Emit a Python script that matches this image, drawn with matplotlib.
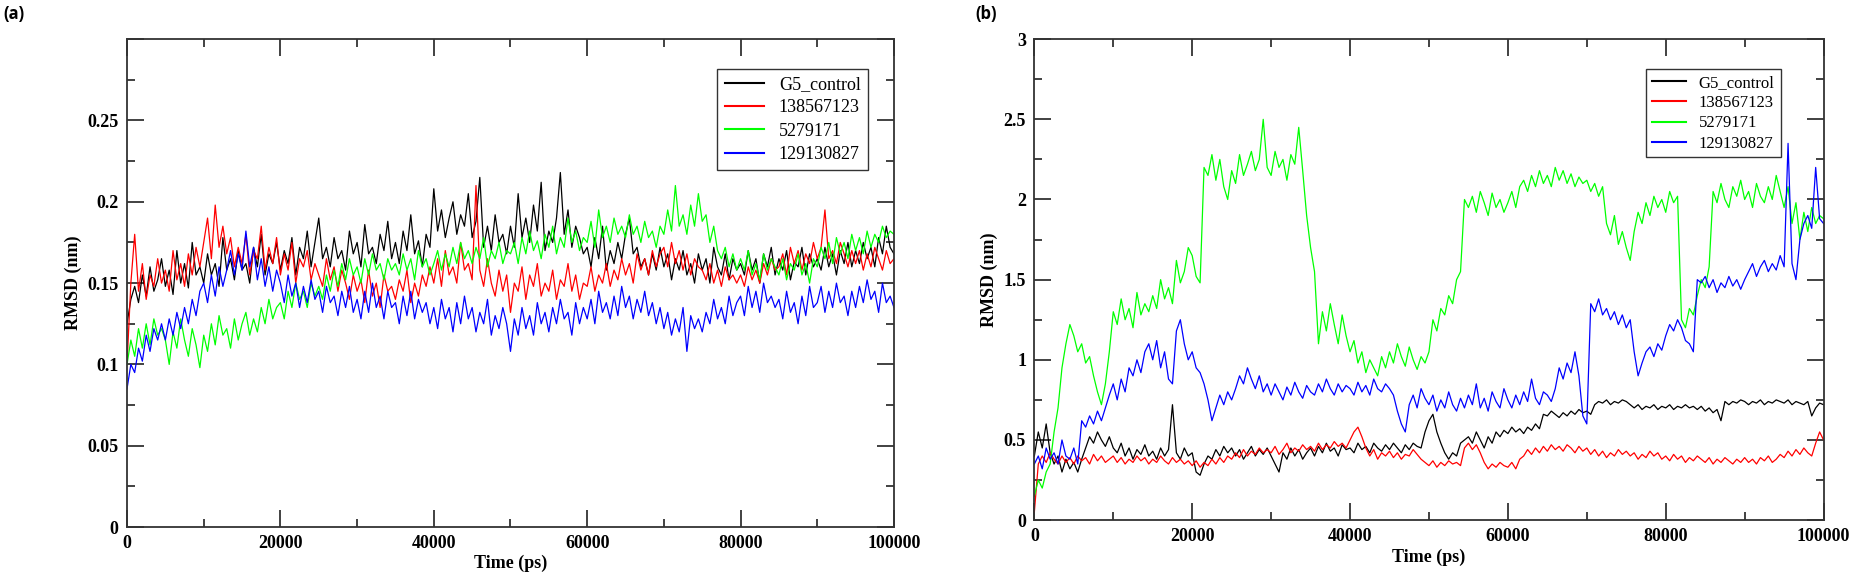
import numpy as np
import matplotlib
matplotlib.use("Agg")
from matplotlib import pyplot as plt
from matplotlib.ticker import MultipleLocator, FuncFormatter

# time axis: one reading every 500 ps
time_ps = np.arange(0, 100001, 500)

labels = ["G5_control", "138567123", "5279171", "129130827"]
colors = ["#000000", "#ff0000", "#00ff00", "#0000ff"]

# ---- panel (a) values (nm) ----
a_g5 = [0.125, 0.140, 0.148, 0.138, 0.155, 0.142, 0.160, 0.145, 0.152, 0.165,
        0.148, 0.158, 0.143, 0.170, 0.150, 0.162, 0.147, 0.175, 0.155, 0.160,
        0.150, 0.168, 0.155, 0.162, 0.148, 0.178, 0.158, 0.165, 0.152, 0.170,
        0.158, 0.162, 0.150, 0.172, 0.160, 0.180, 0.155, 0.168, 0.162, 0.175,
        0.158, 0.170, 0.162, 0.178, 0.155, 0.172, 0.165, 0.182, 0.160, 0.175,
        0.190, 0.165, 0.172, 0.160, 0.178, 0.165, 0.170, 0.158, 0.182, 0.168,
        0.175, 0.160, 0.186, 0.168, 0.172, 0.162, 0.180, 0.170, 0.188, 0.165,
        0.175, 0.162, 0.182, 0.170, 0.192, 0.168, 0.176, 0.160, 0.180, 0.172,
        0.208, 0.182, 0.195, 0.178, 0.190, 0.200, 0.180, 0.192, 0.185, 0.205,
        0.178, 0.188, 0.215, 0.172, 0.185, 0.170, 0.192, 0.175, 0.180, 0.168,
        0.185, 0.172, 0.205, 0.178, 0.190, 0.175, 0.198, 0.182, 0.212, 0.170,
        0.182, 0.175, 0.190, 0.218, 0.180, 0.195, 0.172, 0.185, 0.178, 0.168,
        0.172, 0.160, 0.178, 0.165, 0.185, 0.158, 0.170, 0.162, 0.175, 0.165,
        0.180, 0.190, 0.168, 0.172, 0.160, 0.165, 0.155, 0.168, 0.158, 0.172,
        0.160, 0.168, 0.152, 0.165, 0.158, 0.170, 0.155, 0.162, 0.150, 0.168,
        0.158, 0.165, 0.150, 0.172, 0.160, 0.155, 0.168, 0.152, 0.165, 0.158,
        0.162, 0.155, 0.170, 0.158, 0.165, 0.150, 0.168, 0.160, 0.172, 0.155,
        0.165, 0.158, 0.170, 0.152, 0.163, 0.160, 0.172, 0.155, 0.168, 0.160,
        0.165, 0.158, 0.172, 0.160, 0.168, 0.155, 0.170, 0.162, 0.175, 0.160,
        0.170, 0.162, 0.175, 0.165, 0.172, 0.160, 0.178, 0.168, 0.185, 0.172,
        0.168]
a_138 = [0.100, 0.150, 0.180, 0.145, 0.162, 0.140, 0.155, 0.148, 0.165, 0.150,
         0.158, 0.145, 0.170, 0.152, 0.162, 0.148, 0.168, 0.155, 0.172, 0.160,
         0.175, 0.190, 0.165, 0.198, 0.172, 0.185, 0.168, 0.178, 0.160, 0.172,
         0.162, 0.180, 0.155, 0.170, 0.165, 0.185, 0.158, 0.172, 0.162, 0.178,
         0.155, 0.168, 0.158, 0.175, 0.150, 0.165, 0.160, 0.170, 0.152, 0.162,
         0.155, 0.148, 0.165, 0.152, 0.160, 0.145, 0.158, 0.150, 0.140, 0.155,
         0.145, 0.152, 0.138, 0.158, 0.142, 0.150, 0.135, 0.155, 0.145, 0.148,
         0.140, 0.152, 0.145, 0.158, 0.138, 0.150, 0.142, 0.155, 0.148, 0.160,
         0.150, 0.165, 0.148, 0.170, 0.155, 0.160, 0.150, 0.175, 0.158, 0.162,
         0.152, 0.210, 0.158, 0.148, 0.165, 0.150, 0.142, 0.158, 0.145, 0.155,
         0.132, 0.150, 0.145, 0.160, 0.140, 0.155, 0.148, 0.162, 0.142, 0.150,
         0.145, 0.158, 0.140, 0.152, 0.148, 0.162, 0.145, 0.155, 0.140, 0.150,
         0.148, 0.160, 0.145, 0.155, 0.150, 0.162, 0.148, 0.158, 0.152, 0.165,
         0.155, 0.162, 0.150, 0.168, 0.158, 0.165, 0.155, 0.170, 0.160, 0.168,
         0.172, 0.160, 0.175, 0.162, 0.170, 0.158, 0.168, 0.155, 0.165, 0.160,
         0.158, 0.152, 0.162, 0.150, 0.158, 0.148, 0.160, 0.152, 0.155, 0.150,
         0.155, 0.148, 0.160, 0.152, 0.158, 0.150, 0.162, 0.155, 0.165, 0.158,
         0.160, 0.168, 0.155, 0.172, 0.162, 0.170, 0.158, 0.168, 0.162, 0.175,
         0.165, 0.172, 0.195, 0.165, 0.170, 0.162, 0.175, 0.168, 0.160, 0.170,
         0.162, 0.170, 0.158, 0.168, 0.160, 0.172, 0.165, 0.158, 0.170, 0.162,
         0.165]
a_527 = [0.100, 0.115, 0.105, 0.122, 0.110, 0.125, 0.112, 0.128, 0.118, 0.122,
         0.115, 0.100, 0.120, 0.110, 0.128, 0.115, 0.105, 0.122, 0.112, 0.098,
         0.118, 0.108, 0.125, 0.112, 0.130, 0.118, 0.122, 0.110, 0.128, 0.115,
         0.125, 0.132, 0.118, 0.128, 0.120, 0.135, 0.125, 0.140, 0.128, 0.135,
         0.138, 0.128, 0.145, 0.135, 0.150, 0.140, 0.145, 0.135, 0.150, 0.142,
         0.148, 0.140, 0.155, 0.145, 0.158, 0.148, 0.162, 0.152, 0.165, 0.155,
         0.160, 0.150, 0.165, 0.155, 0.168, 0.158, 0.162, 0.152, 0.165, 0.158,
         0.162, 0.155, 0.168, 0.158, 0.165, 0.152, 0.170, 0.160, 0.165, 0.155,
         0.162, 0.170, 0.158, 0.168, 0.160, 0.172, 0.162, 0.175, 0.165, 0.170,
         0.162, 0.172, 0.165, 0.178, 0.160, 0.170, 0.165, 0.175, 0.162, 0.170,
         0.168, 0.175, 0.162, 0.178, 0.168, 0.182, 0.170, 0.176, 0.165, 0.180,
         0.172, 0.185, 0.168, 0.178, 0.172, 0.190, 0.175, 0.182, 0.170, 0.178,
         0.175, 0.188, 0.172, 0.195, 0.178, 0.185, 0.175, 0.190, 0.180, 0.185,
         0.178, 0.192, 0.180, 0.185, 0.175, 0.188, 0.178, 0.182, 0.172, 0.185,
         0.180, 0.195, 0.182, 0.210, 0.185, 0.192, 0.180, 0.198, 0.185, 0.205,
         0.188, 0.192, 0.175, 0.185, 0.170, 0.165, 0.172, 0.160, 0.168, 0.158,
         0.165, 0.158, 0.170, 0.155, 0.162, 0.152, 0.168, 0.158, 0.165, 0.160,
         0.155, 0.165, 0.152, 0.162, 0.158, 0.168, 0.155, 0.162, 0.150, 0.165,
         0.160, 0.172, 0.165, 0.175, 0.162, 0.178, 0.168, 0.175, 0.165, 0.180,
         0.170, 0.178, 0.168, 0.182, 0.172, 0.180, 0.175, 0.185, 0.178, 0.182,
         0.180]
a_129 = [0.085, 0.100, 0.095, 0.110, 0.102, 0.118, 0.108, 0.122, 0.115, 0.125,
         0.115, 0.128, 0.118, 0.132, 0.122, 0.135, 0.125, 0.140, 0.130, 0.145,
         0.150, 0.138, 0.155, 0.142, 0.160, 0.148, 0.158, 0.170, 0.155, 0.168,
         0.158, 0.182, 0.160, 0.172, 0.152, 0.165, 0.148, 0.160, 0.145, 0.158,
         0.150, 0.138, 0.155, 0.142, 0.150, 0.135, 0.148, 0.138, 0.152, 0.140,
         0.145, 0.132, 0.148, 0.138, 0.142, 0.130, 0.145, 0.135, 0.148, 0.132,
         0.140, 0.128, 0.145, 0.132, 0.150, 0.135, 0.142, 0.128, 0.145, 0.135,
         0.138, 0.125, 0.142, 0.130, 0.145, 0.128, 0.140, 0.132, 0.138, 0.125,
         0.135, 0.122, 0.140, 0.128, 0.135, 0.120, 0.138, 0.125, 0.142, 0.128,
         0.135, 0.120, 0.132, 0.125, 0.140, 0.118, 0.130, 0.122, 0.135, 0.125,
         0.108, 0.128, 0.118, 0.135, 0.122, 0.130, 0.118, 0.138, 0.125, 0.132,
         0.120, 0.135, 0.125, 0.140, 0.128, 0.132, 0.118, 0.138, 0.125, 0.135,
         0.128, 0.140, 0.125, 0.145, 0.132, 0.138, 0.128, 0.142, 0.130, 0.148,
         0.135, 0.142, 0.128, 0.140, 0.132, 0.145, 0.130, 0.138, 0.125, 0.135,
         0.122, 0.132, 0.118, 0.128, 0.120, 0.135, 0.108, 0.130, 0.122, 0.128,
         0.120, 0.132, 0.125, 0.140, 0.128, 0.135, 0.125, 0.142, 0.130, 0.138,
         0.142, 0.130, 0.148, 0.135, 0.145, 0.132, 0.150, 0.138, 0.142, 0.135,
         0.140, 0.128, 0.145, 0.132, 0.138, 0.125, 0.142, 0.130, 0.148, 0.135,
         0.138, 0.148, 0.132, 0.145, 0.135, 0.150, 0.138, 0.142, 0.130, 0.145,
         0.135, 0.148, 0.138, 0.152, 0.140, 0.145, 0.132, 0.150, 0.138, 0.142,
         0.135]

# ---- panel (b) values (nm) ----
b_g5 = [0.40, 0.55, 0.45, 0.60, 0.42, 0.35, 0.40, 0.30, 0.38, 0.32,
        0.36, 0.30, 0.38, 0.45, 0.52, 0.48, 0.55, 0.50, 0.46, 0.52,
        0.45, 0.42, 0.48, 0.40, 0.45, 0.38, 0.44, 0.41, 0.47, 0.40,
        0.43, 0.38, 0.45, 0.40, 0.44, 0.72, 0.42, 0.38, 0.45, 0.40,
        0.42, 0.30, 0.28, 0.35, 0.40, 0.38, 0.44, 0.40, 0.46, 0.42,
        0.45, 0.40, 0.44, 0.38, 0.42, 0.46, 0.40, 0.44, 0.41, 0.45,
        0.40, 0.35, 0.30, 0.42, 0.38, 0.45, 0.40, 0.44, 0.38, 0.42,
        0.45, 0.40, 0.46, 0.42, 0.48, 0.43, 0.45, 0.40, 0.47, 0.44,
        0.45, 0.42, 0.48, 0.44, 0.46, 0.42, 0.48, 0.45, 0.43, 0.47,
        0.44, 0.48, 0.45, 0.42, 0.47, 0.44, 0.48, 0.46, 0.45, 0.55,
        0.62, 0.66, 0.55, 0.48, 0.42, 0.38, 0.42, 0.40, 0.48, 0.50,
        0.52, 0.48, 0.55, 0.50, 0.45, 0.52, 0.48, 0.55, 0.52, 0.56,
        0.54, 0.58, 0.55, 0.57, 0.54, 0.58, 0.56, 0.60, 0.57, 0.66,
        0.65, 0.68, 0.66, 0.64, 0.67, 0.65, 0.68, 0.66, 0.69, 0.67,
        0.68, 0.66, 0.72, 0.74, 0.73, 0.75, 0.72, 0.74, 0.73, 0.75,
        0.74, 0.72, 0.70, 0.72, 0.69, 0.71, 0.70, 0.72, 0.69, 0.71,
        0.70, 0.72, 0.69, 0.71, 0.70, 0.72, 0.70, 0.71, 0.69, 0.71,
        0.68, 0.70, 0.67, 0.69, 0.62, 0.74, 0.72, 0.74, 0.73, 0.75,
        0.74, 0.72, 0.74, 0.73, 0.75, 0.72, 0.74, 0.73, 0.75, 0.74,
        0.73, 0.75, 0.72, 0.74, 0.73, 0.72, 0.74, 0.65, 0.70, 0.73,
        0.72]
b_138 = [0.05, 0.35, 0.40, 0.36, 0.42, 0.38, 0.35, 0.40, 0.36, 0.39,
         0.35, 0.40, 0.37, 0.39, 0.35, 0.41, 0.37, 0.40, 0.36, 0.38,
         0.40, 0.36, 0.39, 0.35, 0.38, 0.36, 0.40, 0.37, 0.39, 0.35,
         0.38, 0.36, 0.40, 0.37, 0.35, 0.39, 0.36, 0.38, 0.35, 0.37,
         0.34, 0.37, 0.33, 0.36, 0.34, 0.38, 0.35, 0.39, 0.36, 0.40,
         0.38, 0.42, 0.39, 0.44, 0.40, 0.43, 0.41, 0.45, 0.42, 0.44,
         0.42, 0.46, 0.41, 0.44, 0.48, 0.42, 0.45, 0.43, 0.47, 0.44,
         0.46, 0.43, 0.48, 0.44, 0.47, 0.45, 0.49, 0.46, 0.48, 0.45,
         0.50, 0.55, 0.58, 0.52, 0.45, 0.40, 0.44, 0.38, 0.42, 0.40,
         0.43, 0.39, 0.42, 0.38, 0.41, 0.40, 0.44, 0.41, 0.38, 0.36,
         0.34, 0.37, 0.33, 0.36, 0.34, 0.37, 0.35, 0.36, 0.34, 0.45,
         0.48, 0.44, 0.47, 0.42, 0.36, 0.32, 0.35, 0.33, 0.36, 0.34,
         0.33, 0.36, 0.32, 0.38, 0.40, 0.44, 0.41, 0.45, 0.42, 0.46,
         0.43, 0.47, 0.44, 0.46, 0.43, 0.47, 0.45, 0.42, 0.46, 0.43,
         0.45, 0.41, 0.44, 0.40, 0.43, 0.39, 0.42, 0.40, 0.44, 0.41,
         0.43, 0.40, 0.42, 0.38, 0.41, 0.39, 0.43, 0.40, 0.42, 0.38,
         0.40, 0.37, 0.41, 0.38, 0.40, 0.36, 0.39, 0.37, 0.40, 0.38,
         0.36, 0.39, 0.35, 0.38, 0.36, 0.39, 0.37, 0.35, 0.38, 0.36,
         0.39, 0.36, 0.38, 0.35, 0.39, 0.37, 0.40, 0.36, 0.38, 0.41,
         0.39, 0.43, 0.40, 0.44, 0.41, 0.45, 0.42, 0.40, 0.48, 0.55,
         0.50]
b_527 = [0.15, 0.25, 0.20, 0.30, 0.35, 0.55, 0.70, 0.95, 1.10, 1.22,
         1.15, 1.05, 1.10, 0.98, 1.02, 0.90, 0.80, 0.72, 0.85, 1.05,
         1.30, 1.22, 1.38, 1.25, 1.32, 1.20, 1.42, 1.28, 1.35, 1.30,
         1.40, 1.32, 1.50, 1.38, 1.45, 1.35, 1.62, 1.48, 1.55, 1.70,
         1.65, 1.52, 1.48, 2.20, 2.15, 2.28, 2.12, 2.25, 2.08, 2.00,
         2.18, 2.10, 2.28, 2.15, 2.22, 2.30, 2.18, 2.25, 2.50, 2.20,
         2.15, 2.30, 2.20, 2.25, 2.12, 2.28, 2.22, 2.45, 2.18, 1.90,
         1.70, 1.55, 1.10, 1.30, 1.18, 1.35, 1.22, 1.10, 1.28, 1.15,
         1.05, 1.12, 0.98, 1.05, 0.92, 1.00, 0.95, 0.90, 1.02, 0.95,
         1.05, 0.98, 1.10, 1.02, 0.96, 1.08, 1.00, 0.94, 1.02, 0.98,
         1.05, 1.25, 1.18, 1.32, 1.28, 1.40, 1.35, 1.50, 1.55, 2.00,
         1.95, 2.02, 1.92, 2.05, 1.98, 1.90, 2.04, 1.95, 2.00, 1.92,
         1.98, 2.05, 1.95, 2.08, 2.12, 2.05, 2.15, 2.08, 2.18, 2.10,
         2.15, 2.08, 2.20, 2.12, 2.18, 2.10, 2.16, 2.08, 2.14, 2.10,
         2.12, 2.05, 2.10, 2.02, 2.08, 1.85, 1.78, 1.90, 1.72, 1.80,
         1.70, 1.62, 1.80, 1.92, 1.85, 1.98, 1.90, 2.02, 1.95, 2.00,
         1.92, 2.05, 1.98, 2.02, 1.25, 1.20, 1.32, 1.28, 1.40, 1.50,
         1.45, 1.58, 2.05, 1.98, 2.10, 2.00, 1.95, 2.08, 2.02, 2.12,
         2.00, 2.05, 1.95, 2.10, 2.02, 1.98, 2.08, 2.00, 2.15, 2.05,
         1.95, 2.08, 1.85, 1.98, 1.75, 1.92, 1.80, 1.95, 1.85, 1.90,
         1.88]
b_129 = [0.35, 0.40, 0.32, 0.45, 0.38, 0.42, 0.35, 0.50, 0.40, 0.38,
         0.45, 0.35, 0.62, 0.58, 0.65, 0.60, 0.68, 0.62, 0.70, 0.78,
         0.85, 0.75, 0.88, 0.80, 0.95, 0.90, 1.00, 0.92, 1.05, 1.10,
         1.00, 1.12, 0.95, 1.05, 0.88, 0.85, 1.18, 1.25, 1.10, 1.00,
         1.05, 0.95, 0.92, 0.85, 0.75, 0.62, 0.70, 0.78, 0.72, 0.80,
         0.75, 0.82, 0.90, 0.85, 0.95, 0.88, 0.82, 0.90, 0.80, 0.85,
         0.78, 0.85, 0.80, 0.75, 0.83, 0.78, 0.86, 0.80, 0.76, 0.84,
         0.80, 0.78, 0.85, 0.80, 0.88, 0.82, 0.78, 0.85, 0.80, 0.84,
         0.82, 0.78, 0.86, 0.80, 0.84, 0.78, 0.88, 0.82, 0.80, 0.85,
         0.82, 0.78, 0.68, 0.60, 0.55, 0.72, 0.78, 0.70, 0.82, 0.76,
         0.72, 0.78, 0.68, 0.75, 0.70, 0.80, 0.72, 0.68, 0.76, 0.70,
         0.78, 0.72, 0.85, 0.70, 0.76, 0.68, 0.80, 0.74, 0.70, 0.82,
         0.75, 0.70, 0.78, 0.72, 0.80, 0.74, 0.88, 0.76, 0.72, 0.80,
         0.78, 0.74, 0.82, 0.95, 0.88, 0.98, 0.92, 1.05, 0.90, 0.65,
         0.60, 1.35, 1.30, 1.38, 1.28, 1.32, 1.25, 1.30, 1.22, 1.28,
         1.20, 1.25, 1.05, 0.90, 0.98, 1.05, 1.08, 1.02, 1.10, 1.06,
         1.15, 1.22, 1.18, 1.25, 1.20, 1.12, 1.10, 1.05, 1.50, 1.48,
         1.52, 1.45, 1.50, 1.42, 1.48, 1.45, 1.52, 1.46, 1.50, 1.44,
         1.50, 1.55, 1.60, 1.52, 1.58, 1.62, 1.55, 1.60, 1.56, 1.65,
         1.58, 2.35, 1.60, 1.50, 1.75, 1.85, 1.90, 1.82, 2.20, 1.88,
         1.85]

serif = "Liberation Serif"

fig = plt.figure(figsize=(18.57, 5.76), dpi=100)
ax_a = fig.add_axes([0.0684, 0.085, 0.413, 0.847])
ax_b = fig.add_axes([0.557, 0.097, 0.425, 0.835])


def style_axes(ax, ymax, ymajor, yminor, hide_top_label):
    ax.set_xlim(0, 100000)
    ax.set_ylim(0, ymax)
    ax.xaxis.set_major_locator(MultipleLocator(20000))
    ax.xaxis.set_minor_locator(MultipleLocator(10000))
    ax.yaxis.set_major_locator(MultipleLocator(ymajor))
    ax.yaxis.set_minor_locator(MultipleLocator(yminor))

    def fmt(v, pos):
        if hide_top_label and abs(v - ymax) < 1e-9:
            return ""
        return "%g" % round(v, 4)
    ax.yaxis.set_major_formatter(FuncFormatter(fmt))
    ax.xaxis.set_major_formatter(FuncFormatter(lambda v, p: "%d" % v))
    ax.tick_params(which="both", direction="in", top=True, right=True,
                   color="#333333", width=1.3)
    ax.tick_params(which="major", length=12, pad=6)
    ax.tick_params(which="minor", length=6)
    for lab in ax.get_xticklabels() + ax.get_yticklabels():
        lab.set_fontfamily(serif)
        lab.set_fontweight("bold")
        lab.set_fontsize(13)
    for sp in ax.spines.values():
        sp.set_color("#333333")
        sp.set_linewidth(1.3)
    ax.set_xlabel("Time (ps)", fontfamily=serif, fontweight="bold",
                  fontsize=13, labelpad=2)
    ax.set_ylabel("RMSD (nm)", fontfamily=serif, fontweight="bold",
                  fontsize=13, labelpad=4)


series_a = [a_g5, a_138, a_527, a_129]
series_b = [b_g5, b_138, b_527, b_129]

for vals, lab, col in zip(series_a, labels, colors):
    ax_a.plot(time_ps, vals, color=col, lw=0.9, label=lab)
for vals, lab, col in zip(series_b, labels, colors):
    ax_b.plot(time_ps, vals, color=col, lw=0.9, label=lab)

style_axes(ax_a, 0.3, 0.05, 0.025, True)
style_axes(ax_b, 3, 0.5, 0.25, False)

leg_a = ax_a.legend(loc="upper right", bbox_to_anchor=(0.966, 0.939),
                    prop={"family": serif, "size": 13}, fancybox=False,
                    framealpha=1, edgecolor="#333333", handlelength=2.2,
                    borderaxespad=0, labelspacing=0.35, borderpad=0.4)
leg_b = ax_b.legend(loc="upper right", bbox_to_anchor=(0.9455, 0.9376),
                    prop={"family": serif, "size": 12}, fancybox=False,
                    framealpha=1, edgecolor="#333333", handlelength=2.0,
                    borderaxespad=0, labelspacing=0.25, borderpad=0.35)
for leg in (leg_a, leg_b):
    leg.get_frame().set_linewidth(1.0)
    for ln in leg.get_lines():
        ln.set_linewidth(1.5)

fig.text(0.002, 0.975, "(a)", fontsize=12, fontweight="bold",
         fontfamily="Open Sans", va="center", ha="left")
fig.text(0.525, 0.975, "(b)", fontsize=12, fontweight="bold",
         fontfamily="Open Sans", va="center", ha="left")

fig.savefig("out.png", dpi=100)
